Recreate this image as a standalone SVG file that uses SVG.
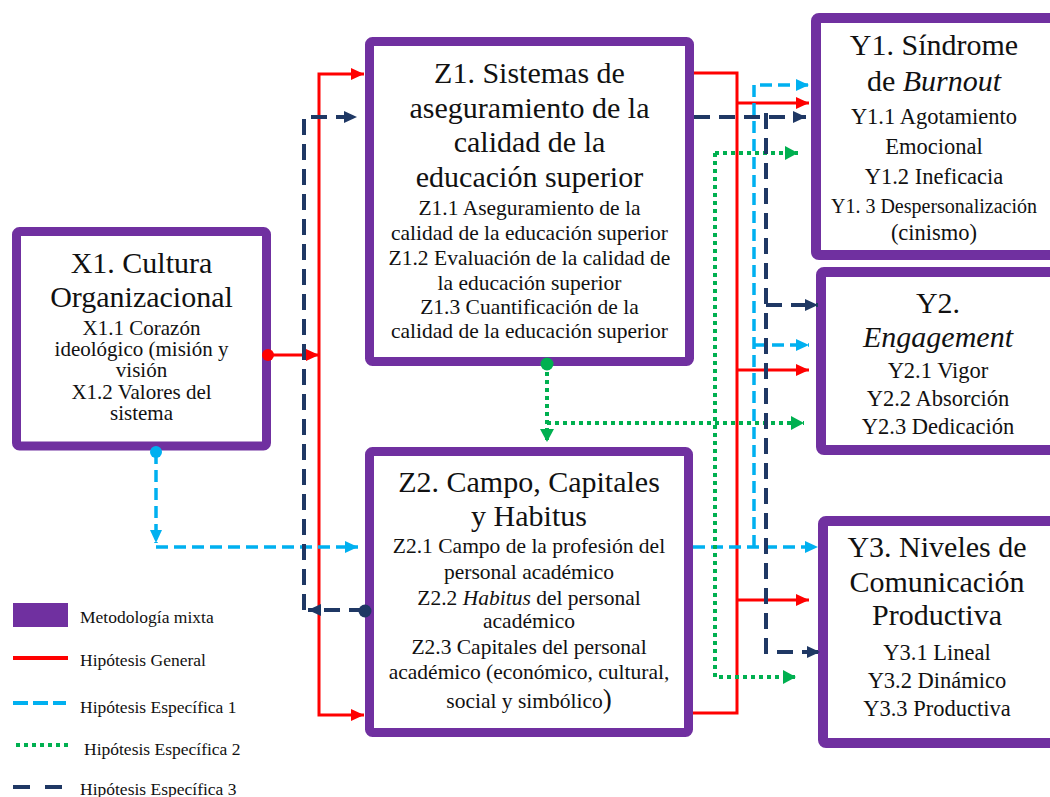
<svg xmlns="http://www.w3.org/2000/svg" width="1050" height="797" viewBox="0 0 1050 797">
<style>
.box{fill:#fff;stroke:#7030A0;stroke-width:9}
.ybox{fill:#fff;stroke:#7030A0;stroke-width:10}
text{font-family:"Liberation Serif","Times New Roman",serif;fill:#111;text-anchor:middle}
.t{font-size:30px}
.s{font-size:21.5px}
.sx{font-size:21px}
.sy{font-size:22.5px}
.lg{font-size:17.5px;text-anchor:start}
.r{fill:none;stroke:#FF0000;stroke-width:3}
.b{fill:none;stroke:#00B0F0;stroke-width:3.5;stroke-dasharray:12 6}
.g{fill:none;stroke:#00B050;stroke-width:4;stroke-dasharray:4 4}
.n{fill:none;stroke:#1F3864;stroke-width:4;stroke-dasharray:16 9}
</style>
<defs>
<marker id="ar" markerUnits="userSpaceOnUse" markerWidth="14" markerHeight="12" refX="13" refY="6" orient="auto"><path d="M0,0 L13,6 L0,12 z" fill="#FF0000"/></marker>
<marker id="ab" markerUnits="userSpaceOnUse" markerWidth="14" markerHeight="12" refX="13" refY="6" orient="auto"><path d="M0,0 L13,6 L0,12 z" fill="#00B0F0"/></marker>
<marker id="ag" markerUnits="userSpaceOnUse" markerWidth="14" markerHeight="14" refX="13" refY="7" orient="auto"><path d="M0,0 L13,7 L0,14 z" fill="#00B050"/></marker>
<marker id="an" markerUnits="userSpaceOnUse" markerWidth="14" markerHeight="12" refX="13" refY="6" orient="auto"><path d="M0,0 L13,6 L0,12 z" fill="#1F3864"/></marker>
</defs>
<rect width="1050" height="797" fill="#fff"/>

<g id="X1">
<rect class="box" x="16.5" y="231.5" width="250" height="214.5" rx="3"/>
<text class="t" x="141.5" y="273">X1. Cultura</text>
<text class="t" x="141.5" y="307">Organizacional</text>
<text class="sx" x="141.5" y="335">X1.1 Corazón</text>
<text class="sx" x="141.5" y="356">ideológico (misión y</text>
<text class="sx" x="141.5" y="377">visión</text>
<text class="sx" x="141.5" y="399">X1.2 Valores del</text>
<text class="sx" x="141.5" y="420">sistema</text>
</g>

<g id="Z1">
<rect class="box" x="369.5" y="41.5" width="320" height="320" rx="3"/>
<text class="t" x="529.5" y="83">Z1. Sistemas de</text>
<text class="t" x="529.5" y="117.5">aseguramiento de la</text>
<text class="t" x="529.5" y="152">calidad de la</text>
<text class="t" x="529.5" y="186.5">educación superior</text>
<text class="s" x="529.5" y="215">Z1.1 Aseguramiento de la</text>
<text class="s" x="529.5" y="240">calidad de la educación superior</text>
<text class="s" x="529.5" y="265">Z1.2 Evaluación de la calidad de</text>
<text class="s" x="529.5" y="290">la educación superior</text>
<text class="s" x="529.5" y="314">Z1.3 Cuantificación de la</text>
<text class="s" x="529.5" y="338">calidad de la educación superior</text>
</g>

<g id="Z2">
<rect class="box" x="369.5" y="451.5" width="319" height="281" rx="3"/>
<text class="t" x="529" y="492">Z2. Campo, Capitales</text>
<text class="t" x="529" y="526">y Habitus</text>
<text class="s" x="529" y="553">Z2.1 Campo de la profesión del</text>
<text class="s" x="529" y="579">personal académico</text>
<text class="s" x="529" y="605">Z2.2 <tspan font-style="italic">Habitus</tspan> del personal</text>
<text class="s" x="529" y="628">académico</text>
<text class="s" x="529" y="654">Z2.3 Capitales del personal</text>
<text class="s" x="529" y="679">académico (económico, cultural,</text>
<text class="s" x="529" y="708">social y simbólico<tspan font-size="27px">)</tspan></text>
</g>

<g id="Y1">
<rect class="ybox" x="816" y="18" width="240" height="237" rx="3"/>
<text class="t" x="934" y="55">Y1. Síndrome</text>
<text class="t" x="934" y="91">de <tspan font-style="italic">Burnout</tspan></text>
<text class="sy" x="934" y="124">Y1.1 Agotamiento</text>
<text class="sy" x="934" y="154">Emocional</text>
<text class="sy" x="934" y="184">Y1.2 Ineficacia</text>
<text x="934" y="213" font-size="20px">Y1. 3 Despersonalización</text>
<text class="sy" x="934" y="240">(cinismo)</text>
</g>

<g id="Y2">
<rect class="ybox" x="821" y="272" width="240" height="178" rx="3"/>
<text class="t" x="938" y="313">Y2.</text>
<text class="t" x="938" y="347" font-style="italic">Engagement</text>
<text class="sy" x="938" y="378">Y2.1 Vigor</text>
<text class="sy" x="938" y="406">Y2.2 Absorción</text>
<text class="sy" x="938" y="434">Y2.3 Dedicación</text>
</g>

<g id="Y3">
<rect class="ybox" x="823" y="521" width="240" height="222" rx="3"/>
<text class="t" x="937" y="557">Y3. Niveles de</text>
<text class="t" x="937" y="592">Comunicación</text>
<text class="t" x="937" y="625">Productiva</text>
<text class="sy" x="937" y="660">Y3.1 Lineal</text>
<text class="sy" x="937" y="688">Y3.2 Dinámico</text>
<text class="sy" x="937" y="716">Y3.3 Productiva</text>
</g>

<g id="connectors">
<!-- Hipótesis General (red) -->
<path class="r" d="M268,355 H319" marker-end="url(#ar)"/>
<path class="r" d="M319,355 V74 H364" marker-end="url(#ar)"/>
<path class="r" d="M319,355 V715 H364" marker-end="url(#ar)"/>
<path class="r" d="M694,73 H737 V713 H693"/>
<path class="r" d="M737,103 H809" marker-end="url(#ar)"/>
<path class="r" d="M737,370 H809" marker-end="url(#ar)"/>
<path class="r" d="M737,600 H809" marker-end="url(#ar)"/>
<!-- Hipótesis Específica 1 (light blue) -->
<path class="b" d="M156,452 V543" marker-end="url(#ab)"/>
<path class="b" d="M156,547 H358" marker-end="url(#ab)"/>
<path class="b" d="M693,547 H818" marker-end="url(#ab)"/>
<path class="b" d="M754,547 V85 H809" marker-end="url(#ab)"/>
<path class="b" d="M754,345 H809" marker-end="url(#ab)"/>
<!-- Hipótesis Específica 2 (green) -->
<path class="g" d="M547,364 V442" marker-end="url(#ag)"/>
<path class="g" d="M547,423 H804" marker-end="url(#ag)"/>
<path class="g" d="M715,153 H798" marker-end="url(#ag)"/>
<path class="g" d="M715,153 V677 H796" marker-end="url(#ag)"/>
<!-- Hipótesis Específica 3 (navy) -->
<path class="n" d="M365,610 H308" marker-end="url(#an)"/>
<path class="n" d="M304,610 V117 H357" marker-end="url(#an)"/>
<path class="n" d="M694,117 H806" marker-end="url(#an)"/>
<path class="n" d="M766,113 V652 H820" marker-end="url(#an)"/>
<path class="n" d="M766,305 H818" marker-end="url(#an)"/>
<!-- origin dots -->
<circle cx="268" cy="355" r="6" fill="#FF0000"/>
<circle cx="156" cy="452" r="6" fill="#00B0F0"/>
<circle cx="547" cy="364" r="6.5" fill="#00B050"/>
<circle cx="365" cy="611" r="6.5" fill="#1F3864"/>
</g>

<g id="legend">
<rect x="13" y="603" width="55" height="24" fill="#7030A0"/>
<text class="lg" x="80" y="623">Metodología mixta</text>
<line x1="13" y1="658" x2="68" y2="658" stroke="#FF0000" stroke-width="4"/>
<text class="lg" x="80" y="666">Hipótesis General</text>
<line x1="13" y1="703" x2="66" y2="703" stroke="#00B0F0" stroke-width="4" stroke-dasharray="15 5"/>
<text class="lg" x="80" y="713">Hipótesis Específica 1</text>
<line x1="16" y1="745" x2="68" y2="745" stroke="#00B050" stroke-width="4" stroke-dasharray="4 4"/>
<text class="lg" x="84" y="755">Hipótesis Específica 2</text>
<line x1="13" y1="787" x2="65" y2="787" stroke="#1F3864" stroke-width="4" stroke-dasharray="17 15"/>
<text class="lg" x="80" y="795">Hipótesis Específica 3</text>
</g>
</svg>
